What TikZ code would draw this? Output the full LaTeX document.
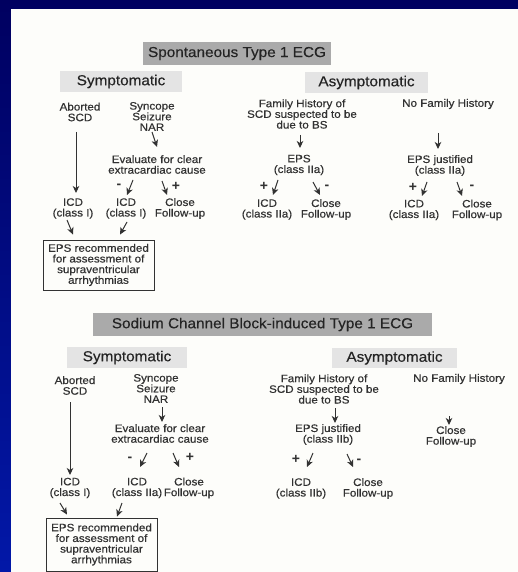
\documentclass[tikz,border=0pt]{standalone}
\usepackage{fontspec}
\setmainfont{Liberation Sans}
\newfontfamily\bodyfont[FakeStretch=1.08,FakeBold=0.5]{Liberation Sans}
\newfontfamily\headfont[FakeStretch=1.06,FakeBold=0.3]{Liberation Sans}
\usetikzlibrary{arrows.meta}
\definecolor{navytop}{RGB}{0,0,96}
\definecolor{navybot}{RGB}{2,24,168}
\definecolor{paper}{RGB}{253,253,250}
\definecolor{ink}{RGB}{50,50,50}
\definecolor{headink}{RGB}{36,36,36}
\definecolor{titlegray}{RGB}{170,170,170}
\definecolor{subgray}{RGB}{228,228,228}
\tikzset{
  txt/.style={font=\bodyfont\fontsize{10.8}{10.7}\selectfont, text=ink, align=center, inner sep=0pt},
  sign/.style={font=\bfseries\fontsize{14}{14}\selectfont, text=ink, inner sep=0pt},
  titlebox/.style={fill=titlegray, text=headink, inner sep=0pt, font=\headfont\fontsize{14.5}{15}\selectfont},
  subbox/.style={fill=subgray, text=headink, inner sep=0pt, font=\headfont\fontsize{14.5}{15}\selectfont},
  epsbox/.style={txt, draw=ink, line width=0.9pt, minimum width=111bp},
  arr/.style={draw=ink, line width=1pt, -{Stealth[length=7bp,width=6.5bp,inset=2bp]}}
}
\begin{document}
\begin{tikzpicture}[x=1bp, y=-1bp]
\useasboundingbox (0,0) rectangle (518,572);
% frame and page
\shade[top color=navytop, bottom color=navybot] (0,0) rectangle (518,572);
\fill[paper] (11,9) rectangle (518,572);

% ---------- Spontaneous Type 1 ECG ----------
\node[titlebox, minimum width=188bp, minimum height=23bp] (tA) at (237,53.5) {Spontaneous Type 1 ECG};
\node[subbox, minimum width=122bp, minimum height=21bp] (sA) at (121,81.5) {Symptomatic};
\node[subbox, minimum width=123bp, minimum height=21bp] (asA) at (366.5,82.5) {Asymptomatic};

\node[txt] (abA) at (80,112) {Aborted\\SCD};
\node[txt] (syA) at (152,116.5) {Syncope\\Seizure\\NAR};
\node[txt] (evA) at (157,164.5) {Evaluate for clear\\extracardiac cause};
\node[txt] (icdA1) at (73,208.5) {ICD\\(class I)};
\node[txt] (icdA2) at (126,208.5) {ICD\\(class I)};
\node[txt] (cfA) at (180,208.5) {Close\\Follow-up};
\node[sign] (mA) at (119,186) {-};
\node[sign] (pA) at (176,186) {+};
\node[epsbox, minimum height=50bp] (epsA) at (98.5,265) {EPS recommended\\for assessment of\\supraventricular\\arrhythmias};

\node[txt] (fhA) at (302,114) {Family History of\\SCD suspected to be\\due to BS};
\node[txt] (epsB) at (299,165) {EPS\\(class IIa)};
\node[txt] (icdB) at (267,209.5) {ICD\\(class IIa)};
\node[txt] (cfB) at (326,209.5) {Close\\Follow-up};
\node[sign] (pB) at (264,186) {+};
\node[sign] (mB) at (327,187) {-};

\node[txt] (nfA) at (448,104) {No Family History};
\node[txt] (epsC) at (440,165.5) {EPS justified\\(class IIa)};
\node[txt] (icdC) at (414,210) {ICD\\(class IIa)};
\node[txt] (cfC) at (477,210) {Close\\Follow-up};
\node[sign] (pC) at (413,187) {+};
\node[sign] (mC) at (472,187) {-};

\draw[arr] ([shift={(-4,20)}]abA.center) -- ([shift={(3,-15.5)}]icdA1.center);
\draw[arr] ([shift={(0,15.5)}]syA.center) -- ([shift={(0,-17.5)}]evA.center);
\draw[arr] ([shift={(-24,15.5)}]evA.center) -- ([shift={(1,-13.5)}]icdA2.center);
\draw[arr] ([shift={(5,16.5)}]evA.center) -- ([shift={(-13,-13.5)}]cfA.center);
\draw[arr] ([shift={(-6,11.5)}]icdA1.center) -- ([shift={(-25.5,-5)}]epsA.north);
\draw[arr] ([shift={(1,13.5)}]icdA2.center) -- ([shift={(21.5,-5)}]epsA.north);
\draw[arr] ([shift={(-2,21)}]fhA.center) -- ([shift={(1,-17)}]epsB.center);
\draw[arr] ([shift={(-21,15)}]epsB.center) -- ([shift={(6,-14.5)}]icdB.center);
\draw[arr] ([shift={(14,17)}]epsB.center) -- ([shift={(-6,-14.5)}]cfB.center);
\draw[arr] ([shift={(-10,29)}]nfA.center) -- ([shift={(-2,-16.5)}]epsC.center);
\draw[arr] ([shift={(-13,16.5)}]epsC.center) -- ([shift={(8,-14)}]icdC.center);
\draw[arr] ([shift={(17,16.5)}]epsC.center) -- ([shift={(-15,-14)}]cfC.center);

% ---------- Sodium Channel Block-induced Type 1 ECG ----------
\node[titlebox, minimum width=339bp, minimum height=23bp] (tD) at (262.5,324.5) {Sodium Channel Block-induced Type 1 ECG};
\node[subbox, minimum width=120bp, minimum height=21bp] (sD) at (127,357.5) {Symptomatic};
\node[subbox, minimum width=125bp, minimum height=20bp] (asD) at (394.5,358) {Asymptomatic};

\node[txt] (abD) at (75,385.5) {Aborted\\SCD};
\node[txt] (syD) at (156,388.5) {Syncope\\Seizure\\NAR};
\node[txt] (evD) at (160,433.5) {Evaluate for clear\\extracardiac cause};
\node[txt] (icdD1) at (70,488) {ICD\\(class I)};
\node[txt] (icdD2) at (137,488) {ICD\\(class IIa)};
\node[txt] (cfD) at (189,488) {Close\\Follow-up};
\node[sign] (mD) at (130,459) {-};
\node[sign] (pD) at (190,457) {+};
\node[epsbox, minimum height=53bp] (epsD) at (101.5,544.5) {EPS recommended\\for assessment of\\supraventricular\\arrhythmias};

\node[txt] (fhD) at (324,389) {Family History of\\SCD suspected to be\\due to BS};
\node[txt] (epsE) at (328,434.5) {EPS justified\\(class IIb)};
\node[txt] (icdE) at (301,488.5) {ICD\\(class IIb)};
\node[txt] (cfE) at (368,488.5) {Close\\Follow-up};
\node[sign] (pE) at (296,459) {+};
\node[sign] (mE) at (359,461) {-};

\node[txt] (nfD) at (459,379) {No Family History};
\node[txt] (cfF) at (451,436.5) {Close\\Follow-up};

\draw[arr] ([shift={(-5,16.5)}]abD.center) -- ([shift={(0,-13)}]icdD1.center);
\draw[arr] ([shift={(6,18.5)}]syD.center) -- ([shift={(2,-11.5)}]evD.center);
\draw[arr] ([shift={(-13,19.5)}]evD.center) -- ([shift={(3,-21)}]icdD2.center);
\draw[arr] ([shift={(13,19.5)}]evD.center) -- ([shift={(-10,-21)}]cfD.center);
\draw[arr] ([shift={(-10,15)}]icdD1.center) -- ([shift={(-34.5,-3)}]epsD.north);
\draw[arr] ([shift={(-15,15)}]icdD2.center) -- ([shift={(15.5,-1)}]epsD.north);
\draw[arr] ([shift={(11,19)}]fhD.center) -- ([shift={(7,-11.5)}]epsE.center);
\draw[arr] ([shift={(-15,18.5)}]epsE.center) -- ([shift={(6,-21.5)}]icdE.center);
\draw[arr] ([shift={(19,19.5)}]epsE.center) -- ([shift={(-15,-21.5)}]cfE.center);
\draw[arr] ([shift={(-10,37)}]nfD.center) -- ([shift={(-2,-11.5)}]cfF.center);
\end{tikzpicture}
\end{document}
